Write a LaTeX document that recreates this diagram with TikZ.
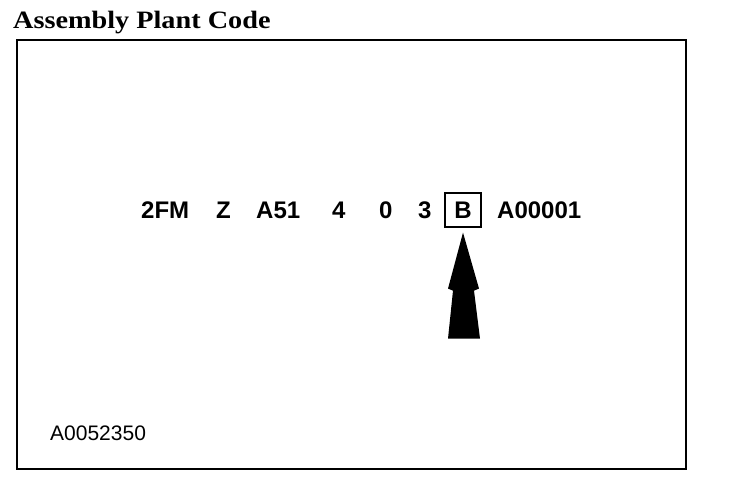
\documentclass[tikz,border=0pt]{standalone}
\usepackage{fontspec}
\setmainfont{Liberation Serif}
\setsansfont{Liberation Sans}
\newfontfamily\headfont[FakeStretch=1.13]{Liberation Serif Bold}
\usepackage{xcolor}

\begin{document}
\begin{tikzpicture}[x=1pt, y=-1pt,
		codechar/.style={font=\sffamily\bfseries\fontsize{24}{24}\selectfont, inner sep=0pt, anchor=base west},
		markbox/.style={draw, line width=1.2pt, minimum width=36pt, minimum height=34pt, inner sep=0pt, font=\sffamily\bfseries\fontsize{24}{24}\selectfont}]
		
		\useasboundingbox (0,0) rectangle (736,482);
		
		% title
		\node[font=\headfont\fontsize{25}{25}\selectfont, inner sep=0pt, anchor=base west] (title) at (13,28) {Assembly Plant Code};
		
		% frame
		\draw[line width=1.8pt] (17,40) rectangle (686,469);
		
		% vehicle code
		\node[codechar] (wmi) at (141,218) {2FM};
		\node[codechar] (restraint) at (216,218) {Z};
		\node[codechar] (model) at (256,218) {A51};
		\node[codechar] (engine) at (332,218) {4};
		\node[codechar] (check) at (379,218) {0};
		\node[codechar] (year) at (418,218) {3};
		\node[markbox] (plant) at (463,210) {B};
		\node[codechar] (serial) at (497,218) {A00001};
		
		% pointer arrow
		\coordinate (tip) at ([yshift=-5pt]plant.south);
		\fill (tip) -- ++(16,56) -- ++(-5,2) -- ++(6,48) -- ++(-32,0) -- ++(5,-48) -- ++(-5,-2) -- cycle;
		
		% figure number
		\node[font=\sffamily\fontsize{21}{21}\selectfont, inner sep=0pt, anchor=base west] (fignum) at (50,440) {A0052350};
		
	\end{tikzpicture}
\end{document}
